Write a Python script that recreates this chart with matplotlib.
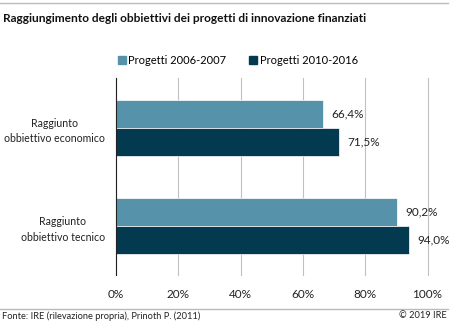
import matplotlib.pyplot as plt
import numpy as np
from matplotlib.lines import Line2D

categories = ['Raggiunto\nobbiettivo economico', 'Raggiunto\nobbiettivo tecnico']
series_names = ['Progetti 2006-2007', 'Progetti 2010-2016']
values_2006 = [66.4, 90.2]
values_2010 = [71.5, 94.0]
value_labels_2006 = ['66,4%', '90,2%']
value_labels_2010 = ['71,5%', '94,0%']
xticks = [0, 20, 40, 60, 80, 100]

light = '#5693ab'
dark = '#033a4f'
font = ['Lato', 'DejaVu Sans']

fig = plt.figure(figsize=(4.5, 3.29), dpi=100)
ax = fig.add_axes([0.258, 0.164, 0.692, 0.599])

y = np.arange(len(categories))
h = 0.286
ax.barh(y - h / 2, values_2006, height=h, color=light, edgecolor='white', linewidth=0.5)
ax.barh(y + h / 2, values_2010, height=h, color=dark, edgecolor='white', linewidth=0.5)

for yi, v, lab in zip(y, values_2006, value_labels_2006):
    ax.text(v + 2.8, yi - h / 2, lab, va='center', ha='left', fontsize=8.5, family=font, color='#222222')
for yi, v, lab in zip(y, values_2010, value_labels_2010):
    ax.text(v + 2.8, yi + h / 2, lab, va='center', ha='left', fontsize=8.5, family=font, color='#222222')

ax.set_xlim(0, 100)
ax.set_ylim(1.5, -0.51)
ax.set_xticks(xticks)
ax.set_xticklabels([f'{t}%' for t in xticks], family=font, fontsize=8.5, color='#222222')
ax.set_yticks(y)
ax.set_yticklabels(categories, family=font, fontsize=7.6, color='#222222', multialignment='center',
                   linespacing=1.5)
ax.tick_params(length=0)
ax.tick_params(axis='x', pad=10)
ax.tick_params(axis='y', pad=8)
ax.grid(axis='x', color='#c0c0c0', linewidth=0.8, clip_on=False)
ax.set_axisbelow(True)
for s in ['top', 'right', 'bottom']:
    ax.spines[s].set_visible(False)
ax.spines['left'].set_color('#222222')
ax.spines['left'].set_linewidth(0.8)

handles = [Line2D([], [], marker='s', linestyle='', markersize=6, color=c) for c in (light, dark)]
fig.legend(handles, series_names, loc='center', bbox_to_anchor=(0.527, 1 - 60 / 329), ncol=2,
           frameon=False, prop={'family': font, 'size': 8}, handletextpad=0.1,
           columnspacing=1.9, handlelength=1.0)

fig.text(0.007, 1 - 18 / 329, 'Raggiungimento degli obbiettivi dei progetti di innovazione finanziati',
         family=font, fontsize=8.6, weight='bold', va='center', ha='left', color='#111111')
fig.add_artist(Line2D([0, 0.995], [1 - 3 / 329, 1 - 3 / 329], color='#bbbbbb', linewidth=1))
fig.add_artist(Line2D([0, 0.995], [1 - 309 / 329, 1 - 309 / 329], color='#bbbbbb', linewidth=1))
fig.text(0.004, 1 - 316 / 329, 'Fonte: IRE (rilevazione propria), Prinoth P. (2011)',
         family=font, fontsize=6.7, va='center', ha='left', color='#222222')
fig.text(0.993, 1 - 316 / 329, '© 2019 IRE', family=font, fontsize=6.7, va='center', ha='right', color='#222222')

fig.savefig('out.png', dpi=100)
